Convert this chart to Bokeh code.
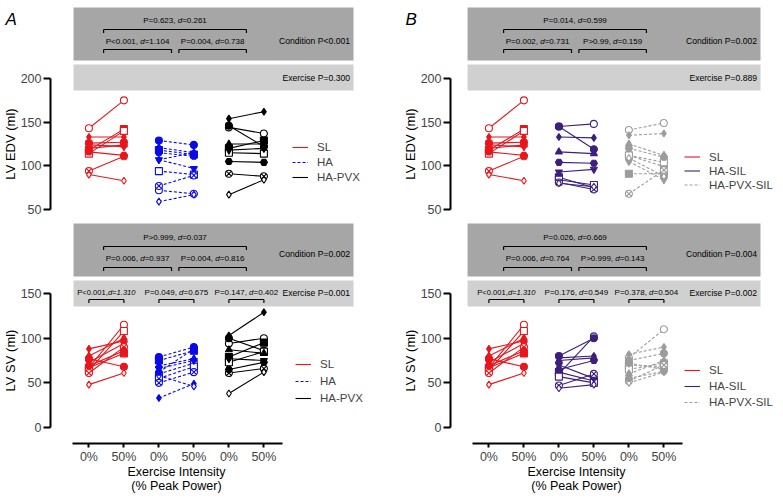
import math
from bokeh.plotting import figure
from bokeh.models import Range1d, FixedTicker, Legend, LegendItem, ColumnDataSource
from bokeh.layouts import row, column
from bokeh.core.properties import value, field
from bokeh.embed import file_html
from bokeh.resources import INLINE

FONT = "Liberation Sans"

# ---------------- data ----------------
time_labels = ["0%", "50%", "0%", "50%", "0%", "50%"]
subject_markers = ["circle", "diamond", "circle", "square", "square",
                   "triangle", "inverted_triangle", "circle_x", "diamond", "hex"]
subject_open = [True, False, False, False, True, False, False, True, True, False]

# LV EDV (ml)
sl_edv_pre = [143, 133, 126, 118, 114, 120, 124, 94, 90, 116]
sl_edv_post = [175, 133, 127, 142, 140, 124, 122, 111, 83, 112]
ha_edv_pre = [72, 107, 129, 118, 94, 121, 107, 77, 59, 115]
ha_edv_post = [68, 115, 124, 113, 90, 115, 97, 89, 67, 111]
hapvx_edv_pre = [144, 154, 146, 120, 115, 125, 118, 91, 67, 105]
hapvx_edv_post = [137, 162, 122, 129, 114, 125, 120, 88, 84, 104]
hasil_edv_pre = [145, 133, 145, 87, 84, 116, 93, 81, 80, 104]
hasil_edv_post = [148, 132, 119, 75, 78, 114, 96, 73, 76, 103]
hapvxsil_edv_pre = [141, 135, 112, 91, 112, 125, 105, 68, 109, 120]
hapvxsil_edv_post = [149, 137, 99, 91, 104, 112, 84, 95, 88, 110]

# LV SV (ml)
sl_sv_pre = [67, 88, 77, 67, 64, 80, 73, 61, 48, 69]
sl_sv_post = [115, 97, 68, 83, 108, 100, 94, 90, 61, 86]
ha_sv_pre = [60, 33, 79, 75, 55, 69, 66, 50, 58, 62]
ha_sv_post = [72, 49, 90, 86, 68, 77, 75, 62, 46, 88]
hapvx_sv_pre = [94, 103, 100, 79, 73, 87, 77, 61, 38, 65]
hapvx_sv_post = [100, 129, 86, 95, 85, 83, 75, 66, 62, 73]
hasil_sv_pre = [60, 78, 80, 62, 57, 75, 70, 47, 44, 65]
hasil_sv_post = [102, 80, 100, 52, 50, 78, 55, 60, 48, 75]
hapvxsil_sv_pre = [78, 82, 75, 70, 65, 60, 72, 52, 50, 55]
hapvxsil_sv_post = [110, 90, 83, 68, 72, 75, 65, 70, 62, 63]

# statistics texts
a_edv_overall = "P=0.623, d=0.261"
a_edv_pairs = ["P<0.001, d=1.104", "P=0.004, d=0.738"]
a_edv_condition = "Condition P<0.001"
a_edv_exercise = "Exercise P=0.300"
a_edv_ex_tests = []
a_sv_overall = "P>0.999, d=0.037"
a_sv_pairs = ["P=0.006, d=0.937", "P=0.004, d=0.816"]
a_sv_condition = "Condition P=0.002"
a_sv_exercise = "Exercise P=0.001"
a_sv_ex_tests = ["P<0.001,d=1.310", "P=0.049, d=0.675", "P=0.147, d=0.402"]

b_edv_overall = "P=0.014, d=0.599"
b_edv_pairs = ["P=0.002, d=0.731", "P>0.99, d=0.159"]
b_edv_condition = "Condition P=0.002"
b_edv_exercise = "Exercise P=0.889"
b_edv_ex_tests = []
b_sv_overall = "P=0.026, d=0.669"
b_sv_pairs = ["P=0.006, d=0.764", "P>0.999, d=0.143"]
b_sv_condition = "Condition P=0.004"
b_sv_exercise = "Exercise P=0.002"
b_sv_ex_tests = ["P<0.001,d=1.310", "P=0.176, d=0.549", "P=0.378, d=0.504"]

x_title_lines = ["Exercise Intensity", "(% Peak Power)"]

# ---------------- styles / layout ----------------
RED = "#e8161c"
BLUE = "#0a0ae6"
BLACK = "#000000"
PURPLE = "#3d1f7c"
GRAY = "#9c9c9c"
DARK_BOX = "#a6a6a6"
LIGHT_BOX = "#d0d0d0"

PX = 35.0          # pixels per category step
XS = -1.526        # data x at the figure's left edge
AXIS_X = XS + 50 / PX
TOP_H, BOT_H = 216, 279
LEFT_W, RIGHT_W = 400, 375
EDV_RANGE = (42.0, 289.3)
SV_RANGE = (-76.1, 236.2)
X_AXIS_Y = -17.9
X_TITLE_Y = [-49.3, -65.5]

TOP_GEO = dict(dark=(220.6, 281.3), light=(186.3, 216.0), ov_t=266.4, ov_b=256.1,
               pr_t=242.4, pr_b=233.2, cond=243.5, ex=201.1, ex_t=201.1, ex_b=193.0, tick=4.0)
BOT_GEO = dict(dark=(169.0, 228.4), light=(135.5, 164.6), ov_t=212.7, ov_b=202.6,
               pr_t=189.2, pr_b=179.1, cond=193.7, ex=151.1, ex_t=151.1, ex_b=143.3, tick=4.0)

CW = {'P': 667, '=': 584, '<': 584, '>': 584, '.': 278, ',': 278, ' ': 278, 'd': 556}


def tw(s, size):
    return sum(CW.get(c, 556) for c in s) / 1000.0 * size


def split_pieces(s):
    i = s.index("d=")
    if s[i - 1] == ",":
        return [(s[:i], False), (s[i:], True)]
    return [(s[:i], False), ("d", True), (s[i + 1:], False)]


def add_stat(p, xc, y, s, size):
    pieces = split_pieces(s)
    total = sum(tw(t, size) for t, _ in pieces)
    off = -total / 2.0
    cols = {False: dict(x=[], y=[], text=[], xo=[]), True: dict(x=[], y=[], text=[], xo=[])}
    for t, it in pieces:
        d = cols[it]
        d["x"].append(xc); d["y"].append(y); d["text"].append(t); d["xo"].append(off)
        off += tw(t, size)
    for it, d in cols.items():
        if d["x"]:
            p.text(x="x", y="y", text="text", x_offset="xo", source=ColumnDataSource(d),
                   text_font=value(FONT), text_font_size=f"{size}px",
                   text_font_style="italic" if it else "normal",
                   text_align="left", text_baseline="middle", text_color="black")


def build(width, height, yr, with_x, yticks, ybounds, groups, ylabel, ylabel_y,
          geo, box_x, stats, legend_loc, legend_h, legend_sp, letter=None, letter_y=None):
    p = figure(width=width, height=height,
               x_range=Range1d(XS, XS + width / PX), y_range=Range1d(*yr),
               output_backend="svg", toolbar_location=None, min_border=0,
               x_axis_type="linear" if with_x else None)
    p.outline_line_color = None
    p.background_fill_color = "white"
    p.border_fill_color = "white"
    for g in p.grid:
        g.visible = False

    yax = p.yaxis[0]
    yax.fixed_location = AXIS_X
    yax.ticker = FixedTicker(ticks=yticks)
    yax.bounds = ybounds
    yax.axis_line_width = 2
    yax.major_tick_line_width = 2
    yax.major_tick_out = 7
    yax.major_tick_in = 0
    yax.minor_tick_line_color = None
    yax.major_label_standoff = 2
    yax.major_label_text_font = FONT
    yax.major_label_text_font_size = "12.5px"

    if with_x:
        xax = p.xaxis[0]
        xax.fixed_location = X_AXIS_Y
        xax.ticker = FixedTicker(ticks=[1, 2, 3, 4, 5, 6])
        xax.major_label_overrides = {i + 1: lab for i, lab in enumerate(time_labels)}
        xax.bounds = (0.53, 6.53)
        xax.axis_line_width = 2
        xax.major_tick_line_width = 2
        xax.major_tick_out = 4
        xax.major_tick_in = 0
        xax.minor_tick_line_color = None
        xax.major_label_standoff = 2
        xax.major_label_text_font = FONT
        xax.major_label_text_font_size = "12.5px"
        p.text(x=[3.5, 3.5], y=X_TITLE_Y, text=x_title_lines,
               text_font=value(FONT), text_font_size="12.5px", text_align="center",
               text_baseline="middle", text_color="black")

    # y-axis title
    p.text(x=[XS + 10 / PX], y=[ylabel_y], text=[ylabel], angle=math.pi / 2,
           text_font=value(FONT), text_font_size="13px", text_align="center",
           text_baseline="middle", text_color="black")
    if letter:
        p.text(x=[XS + 5 / PX], y=[letter_y], text=[letter], text_font=value(FONT),
               text_font_size="17px", text_font_style="italic", text_align="left",
               text_baseline="alphabetic", text_color="black")

    # boxes
    bx0, bx1 = box_x
    p.quad(left=[bx0, bx0], right=[bx1, bx1],
           bottom=[geo["dark"][0], geo["light"][0]], top=[geo["dark"][1], geo["light"][1]],
           fill_color=[DARK_BOX, LIGHT_BOX], line_color=None)

    overall, pairs, cond, exer, ex_tests = stats
    t = geo["tick"]
    brackets = [(1.42, 5.5, geo["ov_b"]), (1.42, 3.36, geo["pr_b"]), (3.57, 5.5, geo["pr_b"])]
    for k in range(len(ex_tests)):
        brackets.append((2 * k + 1, 2 * k + 2, geo["ex_b"]))
    sx0, sy0, sx1, sy1 = [], [], [], []
    for a, b, y in brackets:
        sx0 += [a, a, b]; sx1 += [b, a, b]
        sy0 += [y, y, y]; sy1 += [y, y - t, y - t]
    p.segment(x0=sx0, y0=sy0, x1=sx1, y1=sy1, line_color="black", line_width=1.2)

    add_stat(p, (1.42 + 5.5) / 2, geo["ov_t"], overall, 8)
    add_stat(p, (1.42 + 3.36) / 2, geo["pr_t"], pairs[0], 8)
    add_stat(p, (3.57 + 5.5) / 2, geo["pr_t"], pairs[1], 8)
    for k, s in enumerate(ex_tests):
        add_stat(p, 2 * k + 1.5, geo["ex_t"], s, 7.6 if ",d=" in s else 8)
    p.text(x=[bx1 - 0.1, bx1 - 0.1], y=[geo["cond"], geo["ex"]], text=[cond, exer],
           text_font=value(FONT), text_font_size="8.6px", text_align="right",
           text_baseline="middle", text_color="black")

    # data
    items = []
    for gi, (name, pre, post, color, dash, mfill) in enumerate(groups):
        xa, xb = 2 * gi + 1, 2 * gi + 2
        xs = [[xa, xb] for _ in pre]
        ys = [[a, b] for a, b in zip(pre, post)]
        r = p.multi_line(xs=xs, ys=ys, line_color=color, line_width=1.1, line_dash=dash)
        items.append(LegendItem(label=name, renderers=[r]))
        n = len(pre)
        src = ColumnDataSource(dict(
            x=[xa] * n + [xb] * n,
            y=list(pre) + list(post),
            marker=subject_markers * 2,
            fill=[("white" if o else mfill) for o in subject_open] * 2,
        ))
        p.scatter(x="x", y="y", marker=field("marker"), size=7, fill_color="fill",
                  line_color=mfill, line_width=1.1, source=src)

    leg = Legend(items=items, location=legend_loc, orientation="vertical",
                 border_line_color=None, background_fill_alpha=0, padding=0, margin=0,
                 spacing=legend_sp, glyph_width=16, glyph_height=legend_h,
                 label_height=legend_h, label_standoff=9,
                 label_text_font=FONT, label_text_font_size="11.5px")
    p.add_layout(leg)
    return p


groups_a_edv = [("SL", sl_edv_pre, sl_edv_post, RED, "solid", RED),
                ("HA", ha_edv_pre, ha_edv_post, BLUE, "3 2", BLUE),
                ("HA-PVX", hapvx_edv_pre, hapvx_edv_post, BLACK, "solid", BLACK)]
groups_a_sv = [("SL", sl_sv_pre, sl_sv_post, RED, "solid", RED),
               ("HA", ha_sv_pre, ha_sv_post, BLUE, "3 2", BLUE),
               ("HA-PVX", hapvx_sv_pre, hapvx_sv_post, BLACK, "solid", BLACK)]
groups_b_edv = [("SL", sl_edv_pre, sl_edv_post, RED, "solid", RED),
                ("HA-SIL", hasil_edv_pre, hasil_edv_post, PURPLE, "solid", PURPLE),
                ("HA-PVX-SIL", hapvxsil_edv_pre, hapvxsil_edv_post, GRAY, "3 2", GRAY)]
groups_b_sv = [("SL", sl_sv_pre, sl_sv_post, RED, "solid", RED),
               ("HA-SIL", hasil_sv_pre, hasil_sv_post, PURPLE, "solid", PURPLE),
               ("HA-PVX-SIL", hapvxsil_sv_pre, hapvxsil_sv_post, GRAY, "3 2", GRAY)]

pa1 = build(LEFT_W, TOP_H, EDV_RANGE, False, [50, 100, 150, 200], (50, 200), groups_a_edv,
            "LV EDV (ml)", 125, TOP_GEO, (0.56, 8.56),
            (a_edv_overall, a_edv_pairs, a_edv_condition, a_edv_exercise, a_edv_ex_tests),
            (292, 32), 14, 1, letter="A", letter_y=267.6)
pa2 = build(LEFT_W, BOT_H, SV_RANGE, True, [0, 50, 100, 150], (0, 150), groups_a_sv,
            "LV SV (ml)", 75, BOT_GEO, (0.56, 8.56),
            (a_sv_overall, a_sv_pairs, a_sv_condition, a_sv_exercise, a_sv_ex_tests),
            (295, 90), 14, 3)
pb1 = build(RIGHT_W, TOP_H, EDV_RANGE, False, [50, 100, 150, 200], (50, 200), groups_b_edv,
            "LV EDV (ml)", 125, TOP_GEO, (0.39, 8.76),
            (b_edv_overall, b_edv_pairs, b_edv_condition, b_edv_exercise, b_edv_ex_tests),
            (284, 25), 13, 1, letter="B", letter_y=267.6)
pb2 = build(RIGHT_W, BOT_H, SV_RANGE, True, [0, 50, 100, 150], (0, 150), groups_b_sv,
            "LV SV (ml)", 75, BOT_GEO, (0.39, 8.76),
            (b_sv_overall, b_sv_pairs, b_sv_condition, b_sv_exercise, b_sv_ex_tests),
            (284, 86), 14, 2)

layout = row(column(pa1, pa2, spacing=0), column(pb1, pb2, spacing=0), spacing=0)
open("out.html", "w").write(file_html(layout, INLINE))
